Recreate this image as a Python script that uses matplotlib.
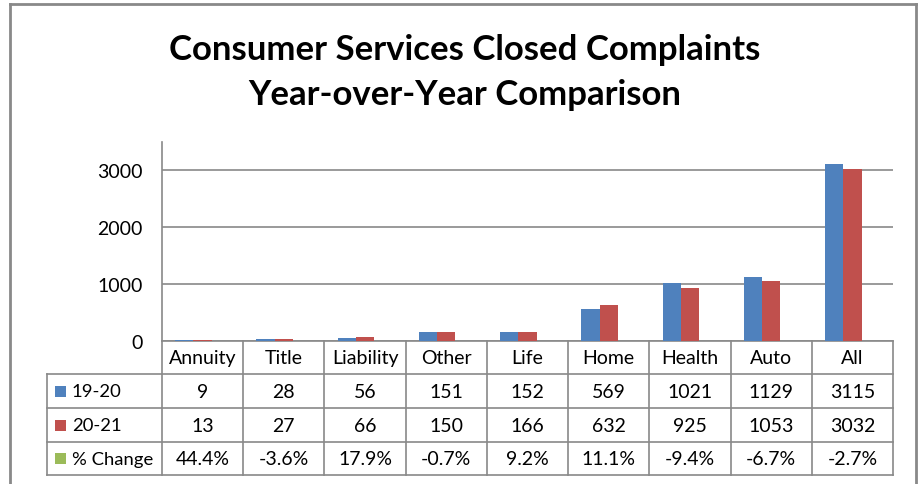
import numpy as np
import matplotlib.pyplot as plt
from matplotlib.lines import Line2D
from matplotlib.patches import Rectangle

categories = ['Annuity', 'Title', 'Liability', 'Other', 'Life', 'Home', 'Health', 'Auto', 'All']
y1920 = [9, 28, 56, 151, 152, 569, 1021, 1129, 3115]
y2021 = [13, 27, 66, 150, 166, 632, 925, 1053, 3032]
pct_change = ['44.4%', '-3.6%', '17.9%', '-0.7%', '9.2%', '11.1%', '-9.4%', '-6.7%', '-2.7%']
series = ['19-20', '20-21', '% Change']
colors = ['#4F81BD', '#C0504D', '#9BBB59']
yticks = [0, 1000, 2000, 3000]

plt.rcParams['font.family'] = ['Lato', 'DejaVu Sans']
grey = '#898989'
fs = 14

fig = plt.figure(figsize=(9.21, 4.85), dpi=100)
ax = fig.add_axes([162/921, 1-342/485, 731/921, 199/485])

x = np.arange(len(categories))
w = 0.225
ax.bar(x - w, y1920, w, color=colors[0], linewidth=0, zorder=3)
ax.bar(x, y2021, w, color=colors[1], linewidth=0, zorder=3)

ax.set_xlim(-0.5, len(categories) - 0.5)
ax.set_ylim(0, 3500)
ax.set_yticks(yticks)
ax.set_yticklabels([str(v) for v in yticks], fontsize=fs)
ax.tick_params(axis='y', length=0, pad=14, colors='black')
ax.set_xticks([])
ax.yaxis.grid(True, color=grey, linewidth=1.2)
ax.set_axisbelow(True)
for s in ['top', 'right']:
    ax.spines[s].set_visible(False)
for s in ['left', 'bottom']:
    ax.spines[s].set_color(grey)
    ax.spines[s].set_linewidth(1.2)

# data table under the plot
trans = ax.get_xaxis_transform()
rows_y = [0, -0.166, -0.337, -0.508, -0.673]
xl = -1.916
xr = len(categories) - 0.5
lk = dict(color=grey, linewidth=1.2, transform=trans, clip_on=False)
for b in np.arange(-0.5, len(categories), 1.0):
    ax.add_line(Line2D([b, b], [rows_y[0], rows_y[-1]], **lk))
ax.add_line(Line2D([xl, xl], [rows_y[1], rows_y[-1]], **lk))
for yy in rows_y[1:]:
    ax.add_line(Line2D([xl, xr], [yy, yy], **lk))

centers = [(rows_y[i] + rows_y[i+1]) / 2 for i in range(4)]
for i, c in enumerate(categories):
    ax.text(i, centers[0], c, transform=trans, ha='center', va='center', fontsize=fs)
    ax.text(i, centers[1], str(y1920[i]), transform=trans, ha='center', va='center', fontsize=fs)
    ax.text(i, centers[2], str(y2021[i]), transform=trans, ha='center', va='center', fontsize=fs)
    ax.text(i, centers[3], pct_change[i], transform=trans, ha='center', va='center', fontsize=fs)

for j, name in enumerate(series):
    yc = centers[j + 1]
    ax.add_patch(Rectangle((-1.817, yc - 0.0275), 0.135, 0.055, transform=trans,
                           facecolor=colors[j], edgecolor='none', clip_on=False))
    ax.text(-1.608, yc, name, transform=trans, ha='left', va='center', fontsize=13.3)

# outer chart border
bk = dict(color=grey, linewidth=2, transform=fig.transFigure)
fig.add_artist(Line2D([10/921, 10/921], [0, 1-5/485], **bk))
fig.add_artist(Line2D([10/921, 916/921], [1-5/485, 1-5/485], **bk))
fig.add_artist(Line2D([916/921, 916/921], [0, 1-5/485], **bk))

fig.text(465/921, 1-50/485, 'Consumer Services Closed Complaints', ha='center', va='center',
         fontsize=25, fontweight='bold')
fig.text(465/921, 1-95/485, 'Year-over-Year Comparison', ha='center', va='center',
         fontsize=25, fontweight='bold')

fig.savefig('out.png', dpi=100)
